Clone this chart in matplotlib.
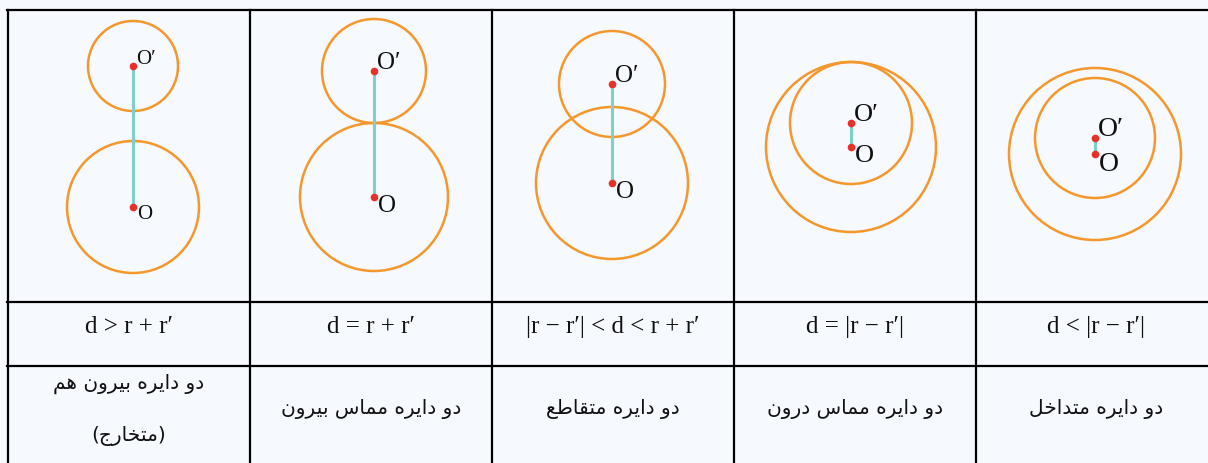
import matplotlib.pyplot as plt
from matplotlib.patches import Circle

# table layout (pixel units)
col_edges = [8, 250, 492, 734, 976]
row_lines = [10, 302, 365.5]

# circles: O (big) and O' (small), same x in each column
center_x = [133, 374, 612, 851, 1095]
big_y = [207, 197, 183, 147, 154]
big_r = [66, 74, 76, 85, 86]
small_y = [66, 71, 84, 123, 138]
small_r = [45, 52, 53, 61, 60]
label_size = [15, 18, 18, 19, 20]

formulas = [
    "d > r + r′",
    "d = r + r′",
    "|r − r′| < d < r + r′",
    "d = |r − r′|",
    "d < |r − r′|",
]
text_x = [129, 371, 613, 855, 1096]
names = [
    ["دو دایره بیرون هم", "(متخارج)"],
    ["دو دایره مماس بیرون"],
    ["دو دایره متقاطع"],
    ["دو دایره مماس درون"],
    ["دو دایره متداخل"],
]

# presentation forms: isolated, final, initial, medial
FORMS = {
    'ا': ('\uFE8D', '\uFE8E', None, None),
    'ب': ('\uFE8F', '\uFE90', '\uFE91', '\uFE92'),
    'ت': ('\uFE95', '\uFE96', '\uFE97', '\uFE98'),
    'ج': ('\uFE9D', '\uFE9E', '\uFE9F', '\uFEA0'),
    'خ': ('\uFEA5', '\uFEA6', '\uFEA7', '\uFEA8'),
    'د': ('\uFEA9', '\uFEAA', None, None),
    'ر': ('\uFEAD', '\uFEAE', None, None),
    'س': ('\uFEB1', '\uFEB2', '\uFEB3', '\uFEB4'),
    'ط': ('\uFEC1', '\uFEC2', '\uFEC3', '\uFEC4'),
    'ع': ('\uFEC9', '\uFECA', '\uFECB', '\uFECC'),
    'ق': ('\uFED5', '\uFED6', '\uFED7', '\uFED8'),
    'ل': ('\uFEDD', '\uFEDE', '\uFEDF', '\uFEE0'),
    'م': ('\uFEE1', '\uFEE2', '\uFEE3', '\uFEE4'),
    'ن': ('\uFEE5', '\uFEE6', '\uFEE7', '\uFEE8'),
    'ه': ('\uFEE9', '\uFEEA', '\uFEEB', '\uFEEC'),
    'و': ('\uFEED', '\uFEEE', None, None),
    'ی': ('\uFBFC', '\uFBFD', '\uFBFE', '\uFBFF'),
}


def shape(s):
    # join letters and flip to visual order, matplotlib has no bidi
    out = []
    for i, ch in enumerate(s):
        if ch not in FORMS:
            out.append(ch)
            continue
        prev = s[i - 1] if i > 0 else ''
        nxt = s[i + 1] if i + 1 < len(s) else ''
        j_prev = prev in FORMS and FORMS[prev][2] is not None
        j_next = FORMS[ch][2] is not None and nxt in FORMS
        if j_prev and j_next:
            out.append(FORMS[ch][3])
        elif j_prev:
            out.append(FORMS[ch][1])
        elif j_next:
            out.append(FORMS[ch][2])
        else:
            out.append(FORMS[ch][0])
    mirror = {'(': ')', ')': '('}
    return ''.join(mirror.get(c, c) for c in reversed(out))


bg = '#f6f9fd'
fig = plt.figure(figsize=(12.08, 4.63), dpi=100, facecolor=bg)
ax = fig.add_axes([0, 0, 1, 1])
ax.set_facecolor(bg)
ax.set_xlim(0, 1208)
ax.set_ylim(463, 0)
ax.axis('off')

# grid lines
for y in row_lines:
    ax.plot([col_edges[0] - 1, 1208], [y, y], color='black', lw=1.6)
for x in col_edges:
    ax.plot([x, x], [row_lines[0], 463], color='black', lw=1.6)

serif = ['Liberation Serif', 'DejaVu Serif']
for i in range(5):
    x = center_x[i]
    ax.add_patch(Circle((x, big_y[i]), big_r[i], fill=False, ec='#f4972c', lw=1.8))
    ax.add_patch(Circle((x, small_y[i]), small_r[i], fill=False, ec='#f4972c', lw=1.8))
    ax.plot([x, x], [small_y[i], big_y[i]], color='#7ed0c8', lw=2.2, zorder=3)
    ax.plot([x, x], [small_y[i], big_y[i]], 'o', color='#e8302a', ms=5.5, mec='none', zorder=4)
    ax.text(x + 3, small_y[i] - 2, "O′", fontsize=label_size[i], family=serif,
            ha='left', va='baseline', color='#111111')
    ax.text(x + 4, big_y[i] - 2, "O", fontsize=label_size[i], family=serif,
            ha='left', va='top', color='#111111')

    ax.text(text_x[i], 327, formulas[i], fontsize=18, family=serif,
            ha='center', va='center', color='#111111')

    lines = names[i]
    if len(lines) == 2:
        ys = [384, 436]
    else:
        ys = [409]
    for t, y in zip(lines, ys):
        ax.text(text_x[i], y, shape(t), fontsize=14.5, family='DejaVu Sans',
                ha='center', va='center', color='#111111')

fig.savefig('out.png', dpi=100, facecolor=bg)
